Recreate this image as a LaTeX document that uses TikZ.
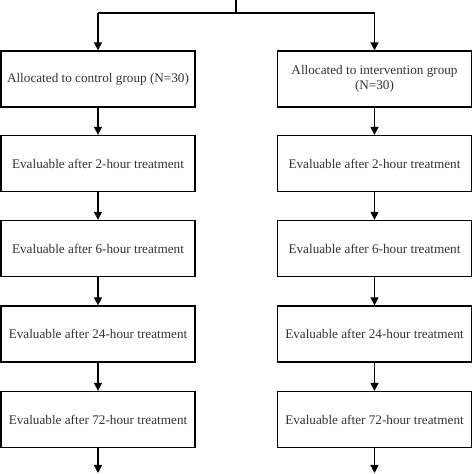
\documentclass[tikz,border=0pt]{standalone}
\usepackage{fontspec}
\setmainfont{Liberation Serif}
\usetikzlibrary{arrows.meta,positioning}
\begin{document}
\begin{tikzpicture}[x=1pt,y=1pt,
  box/.style={draw=black,line width=1.3pt,minimum width=194pt,minimum height=56pt,
    inner sep=0pt,align=center,font=\fontsize{13.2}{15.5}\selectfont,text=black!80},
  arr/.style={line width=1.3pt,-{Triangle[length=8pt,width=8pt]}},
  ln/.style={line width=1.3pt}]
\useasboundingbox (0,0) rectangle (474,474);
% rows: centres at y_px 79, 163.5, 248.5, 334, 419.5
\node[box] (l1) at (98,395) {Allocated to control group (N=30)};
\node[box] (r1) at (374.5,395) {Allocated to intervention group\\(N=30)};
\node[box] (l2) at (98,310.5) {Evaluable after 2-hour treatment};
\node[box] (r2) at (374.5,310.5) {Evaluable after 2-hour treatment};
\node[box] (l3) at (98,225.5) {Evaluable after 6-hour treatment};
\node[box] (r3) at (374.5,225.5) {Evaluable after 6-hour treatment};
\node[box] (l4) at (98,140) {Evaluable after 24-hour treatment};
\node[box] (r4) at (374.5,140) {Evaluable after 24-hour treatment};
\node[box] (l5) at (98,54.5) {Evaluable after 72-hour treatment};
\node[box] (r5) at (374.5,54.5) {Evaluable after 72-hour treatment};
\coordinate (top) at (236,476);
\coordinate (split) at (236,461);
\coordinate (lt) at (98,461);
\coordinate (rt) at (374.5,461);
\coordinate (lend) at (98,1);
\coordinate (rend) at (374.5,1);
\draw[ln] (top) -- (split);
\draw[ln] (lt) -- (rt);
\draw[arr] (lt) -- (l1.north);
\draw[arr] (rt) -- (r1.north);
\draw[arr] (l1) -- (l2);
\draw[arr] (r1) -- (r2);
\draw[arr] (l2) -- (l3);
\draw[arr] (r2) -- (r3);
\draw[arr] (l3) -- (l4);
\draw[arr] (r3) -- (r4);
\draw[arr] (l4) -- (l5);
\draw[arr] (r4) -- (r5);
\draw[arr] (l5) -- (lend);
\draw[arr] (r5) -- (rend);
\end{tikzpicture}
\end{document}
